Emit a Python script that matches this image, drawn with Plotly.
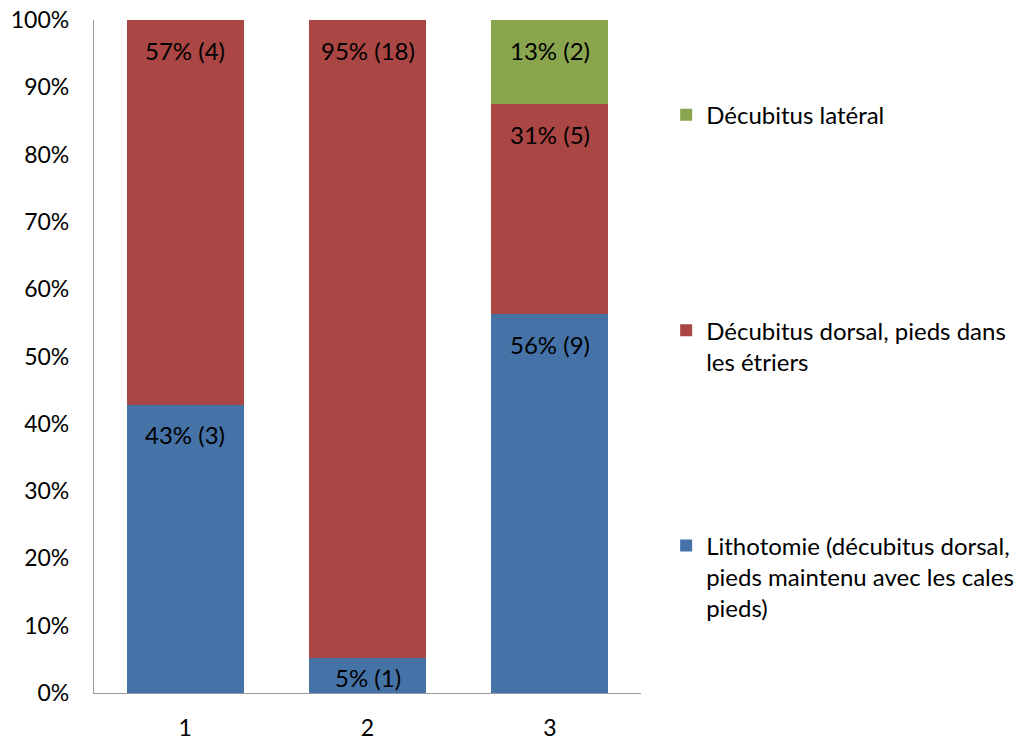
import plotly.graph_objects as go

categories = ["1", "2", "3"]
series_names = [
    "Lithotomie (décubitus dorsal,<br>pieds maintenu avec les cales<br>pieds)",
    "Décubitus dorsal, pieds dans<br>les étriers",
    "Décubitus latéral<br> ",
]
lithotomie = [3, 1, 9]
dorsal = [4, 18, 5]
lateral = [0, 0, 2]
colors = ["#4572A7", "#AA4643", "#89A54E"]
y_ticks = [0, 10, 20, 30, 40, 50, 60, 70, 80, 90, 100]

totals = [a + b + c for a, b, c in zip(lithotomie, dorsal, lateral)]
FONT = "Lato"
FS = 23
PLOT_H = 673

fig = go.Figure()
cum = [0.0] * len(categories)
annotations = []
for i, (name, counts, col) in enumerate(zip(series_names, [lithotomie, dorsal, lateral], colors)):
    pct = [c / t * 100 for c, t in zip(counts, totals)]
    fig.add_trace(go.Bar(
        x=categories, y=pct, name=name, marker=dict(color=col, line=dict(width=0)),
        legendgroup=f"g{i}", legendrank=3 - i, hoverinfo="skip",
    ))
    for j, (p, c) in enumerate(zip(pct, counts)):
        cum[j] += p
        if c > 0:
            seg_px = p / 100 * PLOT_H
            shift = min(30, seg_px / 2 + 2)
            annotations.append(dict(
                x=j, y=cum[j], xref="x", yref="y",
                text=f"{int(p + 0.5)}% ({c})", showarrow=False,
                yanchor="middle", yshift=-shift,
                font=dict(family=FONT, size=24, color="black"),
            ))

fig.update_layout(
    barmode="stack", bargap=0.36,
    width=1027, height=740,
    margin=dict(l=94, r=386, t=20, b=47, autoexpand=False),
    plot_bgcolor="white", paper_bgcolor="white",
    font=dict(family=FONT, size=FS, color="black"),
    showlegend=True,
    annotations=annotations,
    legend=dict(
        x=1.046, y=0.892, xanchor="left", yanchor="top",
        traceorder="grouped", tracegroupgap=150,
        valign="top", font=dict(family=FONT, size=24, color="black"),
        itemwidth=30,
    ),
)
fig.update_xaxes(type="category", showline=True, linecolor="#9a9a9a", linewidth=1.3, ticks="",
                 tickfont=dict(size=FS), showgrid=False, ticklabelstandoff=14, automargin=False)
fig.update_yaxes(range=[0, 100], tickvals=y_ticks, ticktext=[f"{v}%" for v in y_ticks],
                 showline=True, linecolor="#9a9a9a", linewidth=1.3, ticks="",
                 showgrid=False, zeroline=False, tickfont=dict(size=FS), ticklabelstandoff=19,
                 automargin=False)

fig.write_html("out.html", config={"displayModeBar": False},
               post_script="document.body.style.margin='0';")
